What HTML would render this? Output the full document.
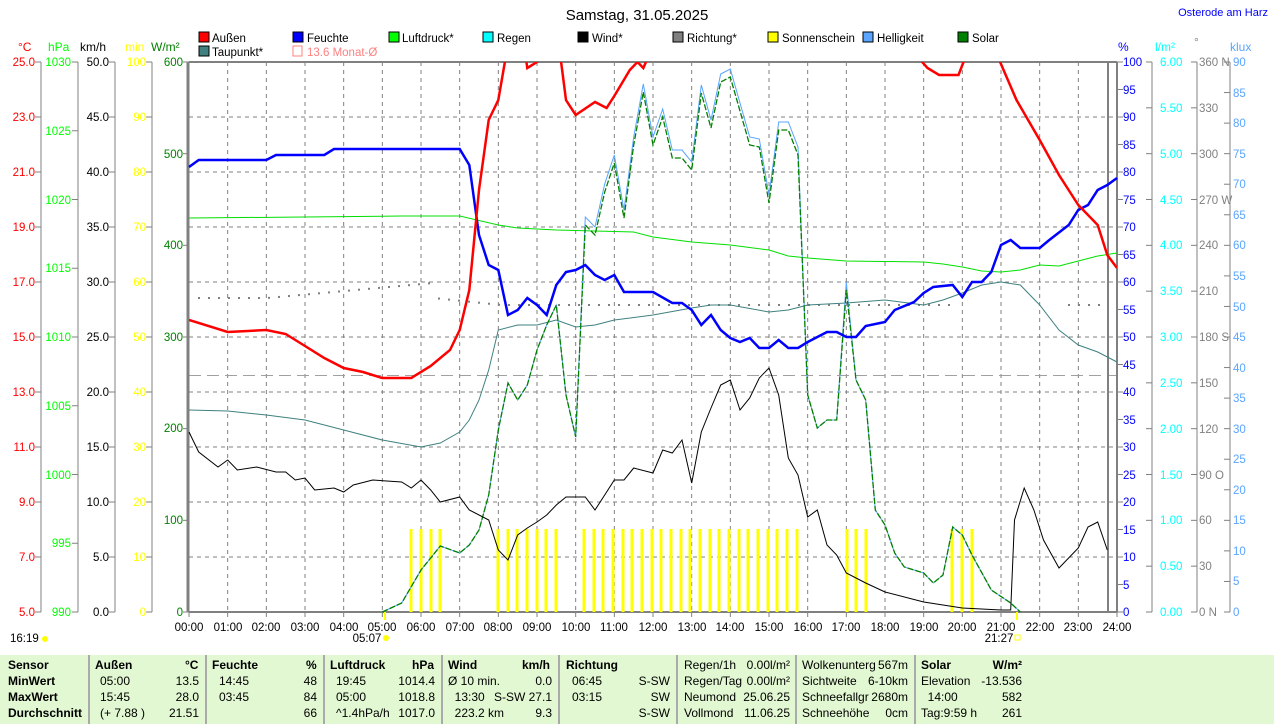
<!DOCTYPE html>
<html><head><meta charset="utf-8"><style>
body{margin:0;width:1274px;height:724px;background:#fff;overflow:hidden;font-family:"Liberation Sans",sans-serif;position:relative}
svg{position:absolute;left:0;top:0}
.t{position:absolute;font-size:12px;white-space:nowrap;line-height:12px}
#tbl{position:absolute;left:0;top:655px;width:1274px;height:69px;background:#e2f8d2}
.c{position:absolute;font-size:12px;line-height:16px;white-space:nowrap}
.b{font-weight:bold}
.sep{position:absolute;top:0;width:2px;height:69px;background:#aaa}
</style></head><body>
<svg id="s" width="1274" height="724" font-family="Liberation Sans, sans-serif" font-size="12">
<g id="grid"></g>
<g id="axes" stroke="#808080" stroke-width="1"></g>
<g id="series"></g>
<text x="637" y="20" text-anchor="middle" font-size="15">Samstag, 31.05.2025</text>
<text x="1268" y="16" text-anchor="end" font-size="11" fill="#0000ff">Osterode am Harz</text>
<!-- legend -->
<g font-size="11.5">
<rect x="199" y="32" width="10" height="10" fill="#f00" stroke="#000"/><text x="212" y="42">Außen</text>
<rect x="293" y="32" width="10" height="10" fill="#00f" stroke="#000"/><text x="307" y="42">Feuchte</text>
<rect x="389" y="32" width="10" height="10" fill="#0f0" stroke="#000"/><text x="402" y="42">Luftdruck*</text>
<rect x="483" y="32" width="10" height="10" fill="#0ff" stroke="#000"/><text x="497" y="42">Regen</text>
<rect x="578" y="32" width="10" height="10" fill="#000" stroke="#000"/><text x="592" y="42">Wind*</text>
<rect x="673" y="32" width="10" height="10" fill="#808080" stroke="#000"/><text x="687" y="42">Richtung*</text>
<rect x="768" y="32" width="10" height="10" fill="#ff0" stroke="#000"/><text x="782" y="42">Sonnenschein</text>
<rect x="863" y="32" width="10" height="10" fill="#59a5ff" stroke="#000"/><text x="877" y="42">Helligkeit</text>
<rect x="958" y="32" width="10" height="10" fill="#008000" stroke="#000"/><text x="972" y="42">Solar</text>
<rect x="199" y="46" width="10" height="10" fill="#408080" stroke="#000"/><text x="212" y="56">Taupunkt*</text>
<rect x="293" y="46" width="9" height="10" fill="none" stroke="#ff8080"/><text x="307" y="56" fill="#ff8080">13.6 Monat-Ø</text>
</g>
<!-- axis headers -->
<text x="18" y="51" fill="#f00">°C</text><text x="48" y="51" fill="#0f0">hPa</text><text x="80" y="51">km/h</text>
<text x="125" y="51" fill="#ff0">min</text><text x="151" y="51" fill="#008000">W/m²</text>
<text x="1118" y="51" fill="#00f">%</text><text x="1155" y="51" fill="#0ff">l/m²</text><text x="1194" y="46" fill="#808080">°</text><text x="1230" y="51" fill="#59a5ff">klux</text>
<g id="lbl" font-size="11.5"></g>
<!-- left labels static -->
<g font-size="11.5" text-anchor="end">
<g fill="#f00"><text x="35" y="66">25.0</text><text x="35" y="121">23.0</text><text x="35" y="176">21.0</text><text x="35" y="231">19.0</text><text x="35" y="286">17.0</text><text x="35" y="341">15.0</text><text x="35" y="396">13.0</text><text x="35" y="451">11.0</text><text x="35" y="506">9.0</text><text x="35" y="561">7.0</text><text x="35" y="616">5.0</text></g>
<g fill="#0f0"><text x="71" y="66">1030</text><text x="71" y="135">1025</text><text x="71" y="204">1020</text><text x="71" y="272">1015</text><text x="71" y="341">1010</text><text x="71" y="410">1005</text><text x="71" y="479">1000</text><text x="71" y="547">995</text><text x="71" y="616">990</text></g>
<g fill="#000"><text x="109" y="66">50.0</text><text x="109" y="121">45.0</text><text x="109" y="176">40.0</text><text x="109" y="231">35.0</text><text x="109" y="286">30.0</text><text x="109" y="341">25.0</text><text x="109" y="396">20.0</text><text x="109" y="451">15.0</text><text x="109" y="506">10.0</text><text x="109" y="561">5.0</text><text x="109" y="616">0.0</text></g>
<g fill="#ff0"><text x="146" y="66">100</text><text x="146" y="121">90</text><text x="146" y="176">80</text><text x="146" y="231">70</text><text x="146" y="286">60</text><text x="146" y="341">50</text><text x="146" y="396">40</text><text x="146" y="451">30</text><text x="146" y="506">20</text><text x="146" y="561">10</text><text x="146" y="616">0</text></g>
<g fill="#008000"><text x="183" y="66">600</text><text x="183" y="158">500</text><text x="183" y="249">400</text><text x="183" y="341">300</text><text x="183" y="432">200</text><text x="183" y="524">100</text><text x="183" y="616">0</text></g>
</g>
<g font-size="11.5">
<g fill="#00f"><text x="1123" y="66">100</text><text x="1123" y="94">95</text><text x="1123" y="121">90</text><text x="1123" y="149">85</text><text x="1123" y="176">80</text><text x="1123" y="204">75</text><text x="1123" y="231">70</text><text x="1123" y="259">65</text><text x="1123" y="286">60</text><text x="1123" y="314">55</text><text x="1123" y="341">50</text><text x="1123" y="369">45</text><text x="1123" y="396">40</text><text x="1123" y="424">35</text><text x="1123" y="451">30</text><text x="1123" y="479">25</text><text x="1123" y="506">20</text><text x="1123" y="534">15</text><text x="1123" y="561">10</text><text x="1123" y="589">5</text><text x="1123" y="616">0</text></g>
<g fill="#0ff"><text x="1160" y="66">6.00</text><text x="1160" y="112">5.50</text><text x="1160" y="158">5.00</text><text x="1160" y="204">4.50</text><text x="1160" y="249">4.00</text><text x="1160" y="295">3.50</text><text x="1160" y="341">3.00</text><text x="1160" y="387">2.50</text><text x="1160" y="433">2.00</text><text x="1160" y="479">1.50</text><text x="1160" y="524">1.00</text><text x="1160" y="570">0.50</text><text x="1160" y="616">0.00</text></g>
<g fill="#808080"><text x="1199" y="66">360 N</text><text x="1199" y="112">330</text><text x="1199" y="158">300</text><text x="1199" y="204">270 W</text><text x="1199" y="249">240</text><text x="1199" y="295">210</text><text x="1199" y="341">180 S</text><text x="1199" y="387">150</text><text x="1199" y="433">120</text><text x="1199" y="479">90 O</text><text x="1199" y="524">60</text><text x="1199" y="570">30</text><text x="1199" y="616">0 N</text></g>
<g fill="#59a5ff"><text x="1233" y="66">90</text><text x="1233" y="97">85</text><text x="1233" y="127">80</text><text x="1233" y="158">75</text><text x="1233" y="188">70</text><text x="1233" y="219">65</text><text x="1233" y="249">60</text><text x="1233" y="280">55</text><text x="1233" y="311">50</text><text x="1233" y="341">45</text><text x="1233" y="372">40</text><text x="1233" y="402">35</text><text x="1233" y="433">30</text><text x="1233" y="463">25</text><text x="1233" y="494">20</text><text x="1233" y="524">15</text><text x="1233" y="555">10</text><text x="1233" y="585">5</text><text x="1233" y="616">0</text></g>
</g>
<g font-size="11.5" text-anchor="middle">
<text x="189" y="631">00:00</text><text x="228" y="631">01:00</text><text x="266" y="631">02:00</text><text x="305" y="631">03:00</text><text x="344" y="631">04:00</text><text x="382" y="631">05:00</text><text x="421" y="631">06:00</text><text x="460" y="631">07:00</text><text x="498" y="631">08:00</text><text x="537" y="631">09:00</text><text x="576" y="631">10:00</text><text x="614" y="631">11:00</text><text x="653" y="631">12:00</text><text x="692" y="631">13:00</text><text x="730" y="631">14:00</text><text x="769" y="631">15:00</text><text x="808" y="631">16:00</text><text x="846" y="631">17:00</text><text x="885" y="631">18:00</text><text x="924" y="631">19:00</text><text x="962" y="631">20:00</text><text x="1001" y="631">21:00</text><text x="1040" y="631">22:00</text><text x="1078" y="631">23:00</text><text x="1117" y="631">24:00</text>
<text x="367" y="642">05:07</text><text x="999" y="642">21:27</text>
</g>
<text x="10" y="642" font-size="11.5">16:19</text>
<circle cx="45" cy="639" r="3" fill="#ff0"/><circle cx="386" cy="638" r="3" fill="#ff0"/><rect x="1015" y="635" width="5" height="5" fill="none" stroke="#ff0"/>
</svg>
<div id="tbl">
<div class="sep" style="left:88px"></div><div class="sep" style="left:205px"></div><div class="sep" style="left:323px"></div><div class="sep" style="left:441px"></div><div class="sep" style="left:558px"></div><div class="sep" style="left:676px"></div><div class="sep" style="left:795px"></div><div class="sep" style="left:914px"></div>
<div class="c b" style="left:8px;top:2px">Sensor<br>MinWert<br>MaxWert<br>Durchschnitt</div>
<div class="c b" style="left:95px;top:2px">Außen</div><div class="c b" style="left:185px;top:2px">°C</div>
<div class="c" style="left:100px;top:18px">05:00<br>15:45<br>(+ 7.88 )</div>
<div class="c" style="left:150px;top:18px;width:49px;text-align:right">13.5<br>28.0<br>21.51</div>
<div class="c b" style="left:212px;top:2px">Feuchte</div><div class="c b" style="left:306px;top:2px">%</div>
<div class="c" style="left:219px;top:18px">14:45<br>03:45</div>
<div class="c" style="left:270px;top:18px;width:47px;text-align:right">48<br>84<br>66</div>
<div class="c b" style="left:330px;top:2px">Luftdruck</div><div class="c b" style="left:412px;top:2px">hPa</div>
<div class="c" style="left:336px;top:18px">19:45<br>05:00<br>^1.4hPa/h</div>
<div class="c" style="left:380px;top:18px;width:55px;text-align:right">1014.4<br>1018.8<br>1017.0</div>
<div class="c b" style="left:448px;top:2px">Wind</div><div class="c b" style="left:522px;top:2px">km/h</div>
<div class="c" style="left:448px;top:18px">Ø 10 min.<br>&nbsp; 13:30<br>&nbsp; 223.2 km</div>
<div class="c" style="left:490px;top:18px;width:62px;text-align:right">0.0<br>S-SW 27.1<br>9.3</div>
<div class="c b" style="left:566px;top:2px">Richtung</div>
<div class="c" style="left:572px;top:18px">06:45<br>03:15</div>
<div class="c" style="left:620px;top:18px;width:50px;text-align:right">S-SW<br>SW<br>S-SW</div>
<div class="c" style="left:684px;top:2px">Regen/1h<br>Regen/Tag<br>Neumond<br>Vollmond</div>
<div class="c" style="left:730px;top:2px;width:60px;text-align:right">0.00l/m²<br>0.00l/m²<br>25.06.25<br>11.06.25</div>
<div class="c" style="left:802px;top:2px">Wolkenunterg<br>Sichtweite<br>Schneefallgr<br>Schneehöhe</div>
<div class="c" style="left:850px;top:2px;width:58px;text-align:right">567m<br>6-10km<br>2680m<br>0cm</div>
<div class="c" style="left:921px;top:2px"><b>Solar</b><br>Elevation<br>&nbsp; 14:00<br>Tag:9:59 h</div>
<div class="c" style="left:960px;top:2px;width:62px;text-align:right"><b>W/m²</b><br>-13.536<br>582<br>261</div>
</div>
<script>
const NS="http://www.w3.org/2000/svg",X0=189,X1=1117,Y0=62,Y1=612,H=(X1-X0)/24;
function el(p,t,a){const e=document.createElementNS(NS,t);for(const k in a)e.setAttribute(k,a[k]);document.getElementById(p).appendChild(e);return e}
function ln(p,x1,y1,x2,y2,a){return el(p,'line',Object.assign({x1,y1,x2,y2},a||{}))}
// grid
for(let h=1;h<24;h++){const x=X0+h*H;ln('grid',x,Y0,x,Y1,{stroke:'#808080','stroke-dasharray':'4,4'})}
for(let i=1;i<10;i++){const y=Y0+i*55;ln('grid',X0,y,X1,y,{stroke:'#808080','stroke-dasharray':'4,4'})}
ln('grid',X0,375.5,X1,375.5,{stroke:'#a0a0a0','stroke-dasharray':'12,6'});
ln('grid',X0,Y0,X1,Y0,{stroke:'#808080','stroke-width':2});
ln('grid',X0,Y1,X1,Y1,{stroke:'#808080','stroke-width':2});
ln('grid',X0-1,Y0,X0-1,Y1,{stroke:'#808080','stroke-width':3});
ln('grid',1108,Y0,1108,Y1,{stroke:'#808080','stroke-width':2});
ln('grid',X1,Y0,X1,Y1,{stroke:'#808080','stroke-width':2});
for(let h=0;h<=24;h++){const x=X0+h*H;ln('grid',x,Y1,x,Y1+5,{stroke:'#808080'})}
// vertical axes with ticks
function ax(x,n,side){ln('axes',x,Y0,x,Y1);for(let i=0;i<=n;i++){const y=Y0+i*(Y1-Y0)/n;side<0?ln('axes',x-6,y,x,y):ln('axes',x,y,x+6,y)}}
ax(41,10,-1);ax(78,8,-1);ax(115,10,-1);ax(152,10,-1);ax(189,6,-1);
ax(1117,20,1);ax(1152,12,-1);ax(1197,12,-1);ax(1230,18,-1);
// series helper: [h,y] pairs
function pl(pts,a){el('series','polyline',Object.assign({points:pts.map(p=>(X0+p[0]*H).toFixed(1)+','+p[1]).join(' '),fill:'none'},a))}
function P(arr){const r=[];for(let i=0;i<arr.length;i+=2)r.push([arr[i],arr[i+1]]);return r}
el('series','clipPath',{id:'cp'}).appendChild(Object.assign(document.createElementNS(NS,'rect'),{})).setAttribute('x',X0);
const cr=document.querySelector('#cp rect');cr.setAttribute('y',Y0);cr.setAttribute('width',X1-X0);cr.setAttribute('height',Y1-Y0);
// sunshine bars
[411,421,431,440,498,508,517,527,537,546,556,584,594,603,613,623,632,642,652,661,671,681,690,700,710,719,729,739,748,758,768,777,787,797,847,856,866,952,962,972].forEach(x=>el('series','rect',{x:x-1.5,y:529,width:3,height:83,fill:'#ff0'}));
// richtung dots
for(let x=198;x<1105;x+=10){let y=298;const h=(x-X0)/H;if(h>2&&h<6.3)y=298-(h-2)*3.5;if(h>6.3&&h<8)y=298+(h-6.3)*4;if(h>=8)y=305;if(h>19.8&&h<22.5)continue;if(h>22.5)y=305;el('series','rect',{x:x,y:y-1,width:2,height:2,fill:'#808080'})}
// dew point
pl(P([0,410,1,411,2,415,3,420,4,430,5,440,6,447,6.5,443,7,432,7.25,420,7.5,400,7.75,370,8,330,8.5,325,9,325,9.5,320,10,327,10.5,325,11,320,12,315,13,308,13.5,305,14,305,15,312,15.5,310,16,305,17,303,18,300,19,305,19.5,300,20,293,20.5,285,21,282,21.5,285,22,305,22.5,330,23,345,23.5,352,24,362]),{stroke:'#408080','stroke-width':1});
// pressure
pl(P([0,218,3,217,5.5,216,7,216,8,225,8.5,228,9.5,230,10.5,231,11.5,232,12,237,13,242,14,245,15,250,15.5,256,16,258,17,261,19,262,19.5,264,20,267,20.5,271,21,272,21.5,270,22,265,22.5,266,23,261,23.5,256,24,253]),{stroke:'#00e000','stroke-width':1});
// solar & brightness
const sol=[5,612,5.5,603,6,570,6.5,546,7,553,7.25,545,7.5,530,7.75,495,8,430,8.25,383,8.5,400,8.75,385,9,350,9.25,325,9.5,305,9.75,395,10,437,10.25,225,10.5,235,10.75,192,11,163,11.25,218,11.5,145,11.75,92,12,145,12.25,117,12.5,158,12.75,158,13,170,13.25,93,13.5,128,13.75,82,14,77,14.5,145,14.75,147,15,203,15.25,130,15.5,130,15.75,155,16,395,16.25,428,16.5,420,16.75,420,17,290,17.25,380,17.5,400,17.75,510,18,525,18.25,553,18.5,567,19,573,19.25,583,19.5,575,19.75,527,20,535,20.25,555,20.75,590,21.25,603,21.5,612];
const bri=sol.slice();for(let i=1;i<bri.length;i+=2){if(bri[i]<300)bri[i]-=8}
pl(P(bri),{stroke:'#59a5ff','stroke-width':1});
pl(P(sol),{stroke:'#008000','stroke-width':1.3,'stroke-dasharray':'6,2'});
// wind
pl(P([0,432,.25,452,.75,467,1,460,1.25,470,1.75,467,2.25,472,2.5,472,2.75,480,3,478,3.25,490,3.75,488,4,492,4.25,485,4.75,480,5.5,482,5.75,488,6,480,6.25,490,6.5,502,7,497,7.25,510,7.75,520,8,550,8.25,560,8.5,535,8.75,528,9,522,9.25,515,9.5,505,9.75,497,10.25,497,10.5,510,10.75,495,11,480,11.25,480,11.5,468,12,473,12.25,450,12.5,453,12.75,440,13,483,13.25,432,13.5,408,13.75,385,14,380,14.25,410,14.5,398,14.75,378,15,368,15.25,395,15.5,458,15.75,475,16,517,16.25,510,16.5,545,16.75,555,17,573,17.5,583,18,592,19,602,20,608,21,610,21.25,610,21.35,520,21.6,488,21.85,510,22.1,540,22.5,568,23,548,23.25,527,23.5,522,23.75,550]),{stroke:'#000','stroke-width':1});
// humidity
pl(P([0,167,.25,160,2,160,2.25,155,3.5,155,3.75,149,7,149,7.25,165,7.5,235,7.75,265,8,270,8.25,315,8.5,310,8.75,298,9,305,9.25,315,9.5,285,9.75,272,10,270,10.25,265,10.5,275,10.75,280,11,275,11.25,292,12,292,12.5,303,12.75,303,13,310,13.25,325,13.5,315,13.75,330,14,338,14.25,342,14.5,338,14.75,348,15,348,15.25,340,15.5,348,15.75,348,16,342,16.5,332,16.75,332,17,337,17.25,337,17.5,326,18,322,18.25,310,18.75,302,19,293,19.25,287,19.75,285,20,297,20.25,282,20.5,282,20.75,272,21,245,21.25,240,21.5,248,22,248,22.25,240,22.75,225,23,210,23.25,205,23.5,190,23.75,185,24,178]),{stroke:'#00f','stroke-width':2.5});
// temperature
pl(P([0,320,1,332,2,330,2.5,334,3,346,3.5,358,4,368,4.5,372,5,378,5.75,378,6.25,366,6.75,350,7,330,7.25,290,7.5,190,7.75,120,8,100,8.2,55,8.7,55,8.75,68,9,62,9.15,55,9.6,55,9.75,100,10,115,10.5,102,10.8,108,11,96,11.4,70,11.6,62,11.75,68,11.9,55,18.8,55,19.1,68,19.4,75,19.9,75,20.1,55,20.9,55,21.4,100,22,140,22.5,175,23,205,23.5,225,23.75,255,24,268]),{stroke:'#f00','stroke-width':2.5,'clip-path':'url(#cp)'});
ln('series',385,612,385,620,{stroke:'#ff0','stroke-width':2});ln('series',1017,612,1017,620,{stroke:'#ff0','stroke-width':2});
</script>
</body></html>
